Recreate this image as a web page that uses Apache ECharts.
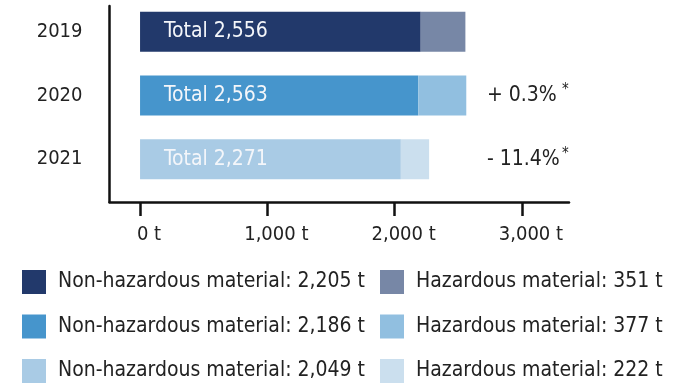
<!DOCTYPE html>
<html>
<head>
<meta charset="utf-8">
<script src="https://cdn.jsdelivr.net/npm/echarts@6/dist/echarts.min.js"></script>
<style>
  html, body { margin: 0; padding: 0; background: #fff; }
  #chart { width: 691px; height: 387px; }
</style>
</head>
<body>
<div id="chart"></div>
<script>
// Waste volumes by year, in tonnes
const years = ['2019', '2020', '2021'];
const nonHazardous = [2205, 2186, 2049];
const hazardous = [351, 377, 222];
const changeNotes = ['', '+ 0.3%', '- 11.4%'];
const xTicks = [0, 1000, 2000, 3000];

const nonHazColors = ['#22396b', '#4695cc', '#a9cbe5'];
const hazColors = ['#7787a6', '#91bfe0', '#cbdfee'];

const FONT = '"Liberation Sans Narrow", "DejaVu Sans Condensed", sans-serif';
const TEXT = '#222';

const fmt = v => v.toLocaleString('en-US');
const totals = years.map((_, i) => nonHazardous[i] + hazardous[i]);

const nonHazNames = nonHazardous.map(v => 'Non-hazardous material: ' + fmt(v) + ' t');
const hazNames = hazardous.map(v => 'Hazardous material: ' + fmt(v) + ' t');

// one series per year and material, so each gets its own legend entry
function onlyAt(i, v) { return years.map((_, j) => (j === i ? v : '-')); }

const series = [];
years.forEach((y, i) => {
  series.push({
    type: 'bar', name: nonHazNames[i], stack: 'total',
    xAxisIndex: 0, yAxisIndex: 0, barWidth: 40,
    itemStyle: { color: nonHazColors[i] },
    data: onlyAt(i, nonHazardous[i]),
    label: {
      show: true, position: 'insideLeft', distance: 24,
      fontFamily: FONT, fontSize: 21, color: '#f4f6fa',
      formatter: p => 'Total ' + fmt(totals[p.dataIndex])
    },
    emphasis: { disabled: true }
  });
});
years.forEach((y, i) => {
  series.push({
    type: 'bar', name: hazNames[i], stack: 'total',
    xAxisIndex: 0, yAxisIndex: 0, barWidth: 40,
    itemStyle: { color: hazColors[i] },
    data: onlyAt(i, hazardous[i]),
    emphasis: { disabled: true }
  });
});

const X_MIN = -240, X_MAX = 3370;
const legendCommon = {
  orient: 'vertical', top: 270, itemWidth: 24, itemHeight: 24, itemGap: 20.5,
  padding: 0, icon: 'rect', selectedMode: false,
  textStyle: { fontFamily: FONT, fontSize: 21, color: TEXT, padding: [0, 0, 0, 7] }
};

const chart = echarts.init(document.getElementById('chart'));
chart.setOption({
  animation: false,
  grid: [
    { left: 109.5, width: 459.5, top: 0, height: 191 },
    { left: 109.5, width: 459.5, top: 6, height: 196 }
  ],
  xAxis: [
    { type: 'value', gridIndex: 0, min: X_MIN, max: X_MAX, show: false },
    {
      type: 'value', gridIndex: 1, min: X_MIN, max: X_MAX,
      axisLine: { show: true, onZero: false, lineStyle: { color: '#111', width: 2.5 } },
      axisTick: { show: true, customValues: xTicks, length: 14, lineStyle: { color: '#111', width: 2.5 } },
      axisLabel: {
        customValues: xTicks, margin: 23, fontFamily: FONT, fontSize: 20, color: TEXT,
        padding: [0, 0, 0, 18],
        formatter: v => fmt(v) + ' t'
      },
      splitLine: { show: false }
    }
  ],
  yAxis: [
    {
      type: 'category', gridIndex: 0, data: years, inverse: true,
      axisLine: { show: false }, axisTick: { show: false },
      axisLabel: { margin: 27, fontFamily: FONT, fontSize: 20, color: TEXT }
    },
    {
      type: 'value', gridIndex: 1,
      axisLine: { show: true, onZero: false, lineStyle: { color: '#111', width: 2.5 } },
      axisTick: { show: false }, axisLabel: { show: false }, splitLine: { show: false }
    }
  ],
  legend: [
    Object.assign({ left: 22, data: nonHazNames }, legendCommon),
    Object.assign({ left: 380, data: hazNames }, legendCommon)
  ],
  series: series
});

// year-on-year change notes to the right of the bars
const notes = [];
changeNotes.forEach((t, i) => {
  if (!t) return;
  const cy = chart.convertToPixel({ yAxisIndex: 0 }, years[i]);
  notes.push({
    type: 'text', x: 487, y: cy,
    style: { text: t, fontFamily: FONT, fontSize: 21, fill: TEXT, verticalAlign: 'middle' }
  });
  notes.push({
    type: 'text', x: 562, y: cy - 5,
    style: { text: '*', fontFamily: FONT, fontSize: 15, fill: TEXT, verticalAlign: 'middle' }
  });
});
chart.setOption({ graphic: notes });
</script>
</body>
</html>
